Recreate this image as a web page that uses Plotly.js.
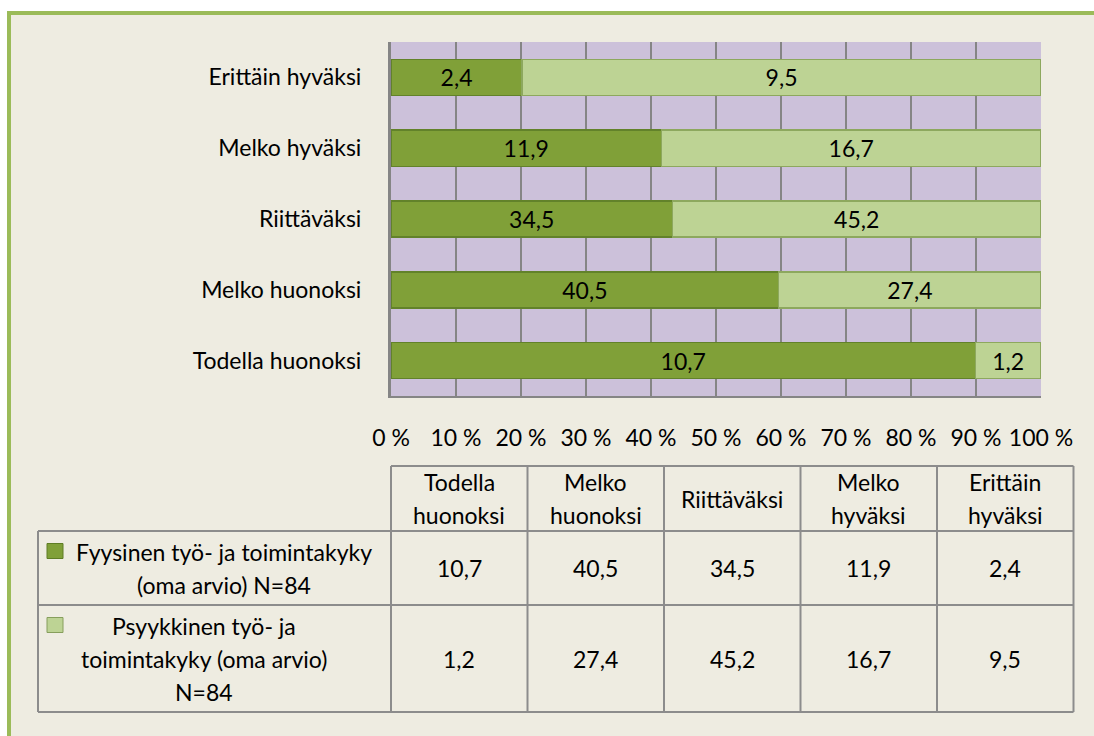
<!DOCTYPE html>
<html>
<head>
<meta charset="utf-8">
<script src="https://cdn.plot.ly/plotly-3.0.1.min.js"></script>
<style>html,body{margin:0;padding:0;background:#fff;overflow:hidden;}#chart{width:1094px;height:736px;}</style>
</head>
<body>
<div id="chart"></div>
<script>
// ---- data ----
const categories = ['Todella huonoksi', 'Melko huonoksi', 'Riittäväksi', 'Melko hyväksi', 'Erittäin hyväksi'];
const fyysinen = [10.7, 40.5, 34.5, 11.9, 2.4];
const psyykkinen = [1.2, 27.4, 45.2, 16.7, 9.5];
const seriesNames = ['Fyysinen työ- ja toimintakyky (oma arvio) N=84', 'Psyykkinen työ- ja toimintakyky (oma arvio) N=84'];
const rowLabelLines = [
  ['Fyysinen työ- ja toimintakyky', '(oma arvio) N=84'],
  ['Psyykkinen työ- ja', 'toimintakyky (oma arvio)', 'N=84']
];
const xTicks = [0, 10, 20, 30, 40, 50, 60, 70, 80, 90, 100];
const xTickText = xTicks.map(t => t + ' %');

// ---- styling / layout ----
const FONT = 'Lato, "Open Sans", sans-serif';
const FS = 23;
const darkGreen = '#80A038', lightGreen = '#BDD394';
const W = 1094, H = 736;
const L = 391, R = 1041, T = 42, B = 396;
const fx = px => (px - L) / (R - L);
const fy = py => (B - py) / (B - T);
const fmt = v => v.toFixed(1).replace('.', ',');

const traces = [
  {
    type: 'bar', orientation: 'h', name: seriesNames[0],
    y: categories, x: fyysinen,
    text: fyysinen.map(fmt), textposition: 'inside', insidetextanchor: 'middle',
    textfont: {family: FONT, size: FS, color: '#000'}, constraintext: 'none',
    marker: {color: darkGreen, line: {color: '#62822A', width: 1.5}},
    hoverinfo: 'skip'
  },
  {
    type: 'bar', orientation: 'h', name: seriesNames[1],
    y: categories, x: psyykkinen,
    text: psyykkinen.map(fmt), textposition: 'inside', insidetextanchor: 'middle',
    textfont: {family: FONT, size: FS, color: '#000'}, constraintext: 'none',
    marker: {color: lightGreen, line: {color: '#8DA85E', width: 1.5}},
    hoverinfo: 'skip'
  }
];

const shapes = [];
const annotations = [];
const line = (x0, y0, x1, y1, color, width) => shapes.push({
  type: 'line', xref: 'paper', yref: 'paper', x0: fx(x0), x1: fx(x1), y0: fy(y0), y1: fy(y1),
  line: {color: color, width: width}, layer: 'above'
});

// white outside area + green frame (open to the right and bottom)
shapes.push({type: 'rect', xref: 'paper', yref: 'paper', x0: fx(0), x1: fx(W), y0: fy(0), y1: fy(11), fillcolor: '#fff', line: {width: 0}, layer: 'below'});
shapes.push({type: 'rect', xref: 'paper', yref: 'paper', x0: fx(0), x1: fx(7), y0: fy(0), y1: fy(H), fillcolor: '#fff', line: {width: 0}, layer: 'below'});
line(7, 13, W, 13, '#9BBB59', 4);
line(9, 11, 9, H, '#9BBB59', 4);

// data table
const colX = [391, 527.5, 664, 800.5, 937, 1073.5];
const rowY = [466, 531, 605, 712];
const tableLeft = 38;
const gridC = '#8C8C8C';
line(colX[0], rowY[0], colX[5], rowY[0], gridC, 2);
for (let r = 1; r < rowY.length; r++) line(tableLeft, rowY[r], colX[5], rowY[r], gridC, 2);
line(tableLeft, rowY[1], tableLeft, rowY[3], gridC, 2);
colX.forEach(x => line(x, rowY[0], x, rowY[3], gridC, 2));

const ann = (px, py, text, anchor) => annotations.push({
  xref: 'paper', yref: 'paper', x: fx(px), y: fy(py), text: text, showarrow: false,
  xanchor: anchor || 'center', yanchor: 'middle', font: {family: FONT, size: FS, color: '#000'}
});
const LH = 33;
// header
categories.forEach((c, i) => {
  const parts = c.split(' ');
  const cx = (colX[i] + colX[i + 1]) / 2;
  const cy = (rowY[0] + rowY[1]) / 2;
  parts.forEach((p, k) => ann(cx, cy + (k - (parts.length - 1) / 2) * LH, p));
});
// values
[fyysinen, psyykkinen].forEach((vals, r) => {
  const cy = (rowY[r + 1] + rowY[r + 2]) / 2;
  vals.forEach((v, i) => ann((colX[i] + colX[i + 1]) / 2, cy, fmt(v)));
});
// row labels + legend keys
const labelCenters = [224, 204];
const keyColors = [darkGreen, lightGreen];
const keyBorders = ['#5E7D24', '#869E5C'];
rowLabelLines.forEach((lines, r) => {
  const cy = (rowY[r + 1] + rowY[r + 2]) / 2;
  const firstY = cy - (lines.length - 1) / 2 * LH;
  lines.forEach((t, k) => ann(labelCenters[r], firstY + k * LH, t));
  shapes.push({type: 'rect', xref: 'paper', yref: 'paper',
    x0: fx(47), x1: fx(63), y0: fy(firstY - 8), y1: fy(firstY + 7),
    fillcolor: keyColors[r], line: {color: keyBorders[r], width: 1}, layer: 'above'});
});

const layout = {
  width: W, height: H,
  margin: {l: L, r: W - R, t: T, b: H - B, pad: 0},
  paper_bgcolor: '#EEECE1',
  plot_bgcolor: '#CCC1DA',
  barmode: 'stack', barnorm: 'percent', bargap: 0.49,
  showlegend: false,
  font: {family: FONT, size: FS, color: '#000'},
  xaxis: {
    range: [0, 100], tickvals: xTicks, ticktext: xTickText,
    showgrid: true, gridcolor: '#858585', gridwidth: 2,
    showline: true, linecolor: '#858585', linewidth: 2,
    zeroline: false, ticks: '', ticklabelstandoff: 20,
    tickfont: {family: FONT, size: FS, color: '#000'}, automargin: false, fixedrange: true
  },
  yaxis: {
    type: 'category', categoryorder: 'array', categoryarray: categories,
    showgrid: false, showline: true, linecolor: '#858585', linewidth: 3,
    ticks: '', ticklabelstandoff: 22,
    tickfont: {family: FONT, size: FS, color: '#000'}, automargin: false, fixedrange: true
  },
  shapes: shapes,
  annotations: annotations
};

Plotly.newPlot('chart', traces, layout, {displayModeBar: false, staticPlot: true});
</script>
</body>
</html>
